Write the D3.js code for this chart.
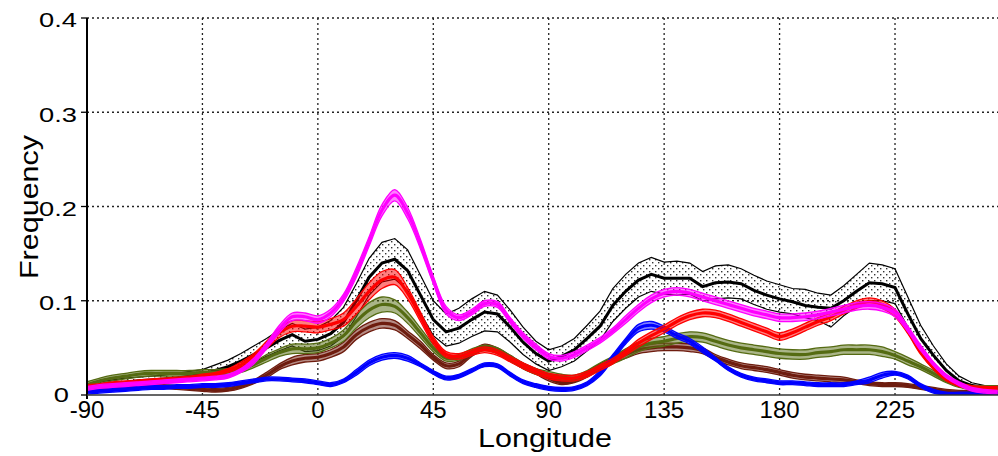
<!DOCTYPE html>
<html>
<head>
    <meta charset="utf-8">
    <script src="https://d3js.org/d3.v7.min.js"></script>
    <style>
        body { margin: 0; background: #fff; }
        text { font-family: "Liberation Sans", Arial, sans-serif; fill: #000; }
    </style>
</head>
<body>
<script>
    // longitude samples, every 5 degrees
    const lon = d3.range(-90, 270, 5);

    const xTicks = [-90, -45, 0, 45, 90, 135, 180, 225];
    const yTicks = [0, 0.1, 0.2, 0.3, 0.4];

    // black series (mean + envelope)
    const blackMean = [0.008, 0.010, 0.012, 0.013, 0.015, 0.016, 0.017, 0.018, 0.020, 0.022, 0.026, 0.030,
        0.036, 0.043, 0.050, 0.058, 0.064, 0.057, 0.059, 0.065, 0.077, 0.100, 0.125, 0.140, 0.144, 0.132, 0.106,
        0.080, 0.067, 0.071, 0.080, 0.088, 0.086, 0.072, 0.056, 0.044, 0.036, 0.041, 0.048, 0.060, 0.073, 0.095,
        0.110, 0.122, 0.128, 0.124, 0.124, 0.124, 0.115, 0.119, 0.120, 0.118, 0.111, 0.106, 0.102, 0.099, 0.095,
        0.093, 0.092, 0.100, 0.110, 0.119, 0.118, 0.114, 0.086, 0.060, 0.042, 0.026, 0.015, 0.010, 0.008, 0.008];
    const blackUpper = [0.011, 0.014, 0.016, 0.018, 0.019, 0.020, 0.021, 0.023, 0.025, 0.027, 0.032, 0.037,
        0.044, 0.052, 0.060, 0.069, 0.076, 0.070, 0.072, 0.079, 0.093, 0.118, 0.145, 0.162, 0.166, 0.154, 0.127,
        0.100, 0.086, 0.092, 0.102, 0.110, 0.106, 0.090, 0.072, 0.057, 0.048, 0.052, 0.060, 0.074, 0.089, 0.113,
        0.128, 0.140, 0.146, 0.141, 0.142, 0.140, 0.131, 0.137, 0.138, 0.134, 0.127, 0.121, 0.117, 0.113, 0.112,
        0.108, 0.106, 0.116, 0.128, 0.140, 0.138, 0.134, 0.104, 0.074, 0.052, 0.033, 0.020, 0.013, 0.010, 0.010];
    const blackLower = [0.005, 0.007, 0.008, 0.009, 0.011, 0.012, 0.013, 0.014, 0.016, 0.018, 0.021, 0.024,
        0.029, 0.035, 0.041, 0.047, 0.052, 0.046, 0.047, 0.052, 0.062, 0.083, 0.106, 0.120, 0.123, 0.111, 0.087,
        0.063, 0.052, 0.055, 0.062, 0.068, 0.067, 0.056, 0.043, 0.033, 0.026, 0.030, 0.036, 0.047, 0.058, 0.078,
        0.092, 0.104, 0.110, 0.107, 0.106, 0.107, 0.100, 0.102, 0.103, 0.102, 0.096, 0.091, 0.088, 0.086, 0.082,
        0.079, 0.072, 0.084, 0.094, 0.100, 0.100, 0.097, 0.072, 0.048, 0.032, 0.019, 0.010, 0.007, 0.006, 0.006];

    // coloured series: mean values
    const magentaMean = [0.007, 0.009, 0.010, 0.011, 0.012, 0.013, 0.014, 0.015, 0.016, 0.017, 0.018, 0.020,
        0.026, 0.036, 0.052, 0.070, 0.083, 0.083, 0.080, 0.087, 0.103, 0.130, 0.163, 0.196, 0.212, 0.193, 0.160,
        0.122, 0.090, 0.082, 0.088, 0.097, 0.096, 0.079, 0.063, 0.051, 0.041, 0.039, 0.043, 0.050, 0.058, 0.068,
        0.080, 0.092, 0.102, 0.108, 0.110, 0.108, 0.104, 0.100, 0.096, 0.092, 0.088, 0.085, 0.082, 0.082, 0.083,
        0.085, 0.088, 0.091, 0.094, 0.095, 0.093, 0.087, 0.070, 0.050, 0.033, 0.020, 0.012, 0.006, 0.004, 0.003];
    const redMean = [0.009, 0.010, 0.012, 0.013, 0.014, 0.015, 0.016, 0.017, 0.018, 0.020, 0.022, 0.026,
        0.032, 0.041, 0.053, 0.066, 0.073, 0.073, 0.072, 0.075, 0.080, 0.094, 0.110, 0.122, 0.125, 0.108, 0.083,
        0.058, 0.043, 0.041, 0.045, 0.048, 0.045, 0.038, 0.031, 0.025, 0.020, 0.018, 0.018, 0.022, 0.029, 0.036,
        0.045, 0.055, 0.063, 0.070, 0.078, 0.084, 0.087, 0.086, 0.082, 0.077, 0.072, 0.067, 0.062, 0.066, 0.072,
        0.078, 0.083, 0.090, 0.096, 0.099, 0.096, 0.087, 0.068, 0.046, 0.029, 0.017, 0.011, 0.008, 0.007, 0.007];
    const greenMean = [0.011, 0.015, 0.018, 0.020, 0.022, 0.023, 0.023, 0.023, 0.023, 0.024, 0.024, 0.025,
        0.027, 0.032, 0.039, 0.045, 0.049, 0.049, 0.050, 0.055, 0.063, 0.078, 0.090, 0.096, 0.094, 0.082, 0.066,
        0.050, 0.039, 0.040, 0.046, 0.050, 0.047, 0.039, 0.031, 0.025, 0.022, 0.019, 0.018, 0.023, 0.030, 0.037,
        0.044, 0.051, 0.055, 0.057, 0.060, 0.062, 0.061, 0.057, 0.053, 0.050, 0.048, 0.046, 0.044, 0.043, 0.043,
        0.045, 0.046, 0.048, 0.048, 0.048, 0.046, 0.042, 0.036, 0.030, 0.023, 0.015, 0.010, 0.008, 0.008, 0.008];
    const brownMean = [0.005, 0.007, 0.008, 0.009, 0.009, 0.009, 0.009, 0.008, 0.007, 0.006, 0.005, 0.006,
        0.009, 0.014, 0.021, 0.030, 0.036, 0.039, 0.040, 0.044, 0.051, 0.064, 0.072, 0.076, 0.074, 0.064, 0.053,
        0.040, 0.031, 0.033, 0.044, 0.051, 0.047, 0.039, 0.031, 0.025, 0.018, 0.013, 0.015, 0.022, 0.030, 0.037,
        0.043, 0.048, 0.050, 0.051, 0.051, 0.050, 0.047, 0.040, 0.035, 0.031, 0.029, 0.027, 0.024, 0.021, 0.019,
        0.018, 0.017, 0.016, 0.014, 0.012, 0.011, 0.011, 0.010, 0.008, 0.006, 0.004, 0.003, 0.003, 0.003, 0.003];
    const blueMean = [0.003, 0.004, 0.005, 0.006, 0.007, 0.008, 0.008, 0.009, 0.009, 0.010, 0.010, 0.011,
        0.013, 0.015, 0.017, 0.017, 0.016, 0.015, 0.013, 0.011, 0.015, 0.024, 0.034, 0.040, 0.042, 0.039, 0.032,
        0.024, 0.018, 0.020, 0.026, 0.032, 0.031, 0.022, 0.014, 0.010, 0.007, 0.006, 0.007, 0.012, 0.023, 0.040,
        0.057, 0.071, 0.074, 0.070, 0.063, 0.057, 0.048, 0.038, 0.028, 0.021, 0.017, 0.015, 0.013, 0.013, 0.012,
        0.011, 0.011, 0.011, 0.013, 0.016, 0.021, 0.023, 0.019, 0.010, 0.004, 0.001, 0.001, 0.001, 0.001, 0.001];

    // half-width of each coloured envelope, in thousandths
    const magentaSpread = [2, 2, 2, 2, 2, 2, 2, 2, 2, 2, 2, 2, 2, 3, 3, 4, 4, 4, 4, 4, 4, 5, 5, 6, 6, 6, 5, 4, 4,
        3, 3, 3, 3, 3, 3, 3, 3, 3, 3, 3, 3, 3, 4, 4, 4, 4, 4, 4, 4, 4, 4, 4, 4, 4, 4, 4, 4, 4, 4, 4, 4, 4, 4, 4, 3,
        3, 2, 2, 2, 2, 2, 2];
    const redSpread = [2, 2, 2, 2, 2, 2, 2, 2, 2, 2, 2, 2, 3, 3, 4, 5, 6, 6, 6, 6, 7, 8, 9, 9, 8, 6, 5, 4, 3,
        3, 3, 3, 3, 3, 3, 3, 3, 3, 3, 3, 3, 3, 3, 4, 4, 4, 4, 4, 4, 4, 4, 4, 4, 4, 4, 4, 4, 4, 4, 4, 4, 4, 4, 4, 3,
        3, 2, 2, 2, 2, 2, 2];
    const greenSpread = [3, 3, 3, 3, 3, 3, 3, 3, 3, 3, 3, 3, 3, 3, 4, 4, 5, 5, 5, 5, 6, 7, 8, 8, 7, 6, 5, 4, 3,
        3, 3, 3, 3, 3, 3, 3, 3, 3, 3, 3, 4, 4, 5, 5, 5, 5, 5, 5, 5, 5, 5, 5, 5, 5, 5, 5, 5, 5, 5, 5, 5, 5, 5, 4, 4,
        3, 3, 2, 2, 2, 2, 2];
    const brownSpread = [2, 2, 2, 2, 2, 2, 2, 2, 2, 2, 2, 2, 2, 2, 3, 3, 4, 4, 4, 4, 5, 5, 5, 5, 5, 4, 4, 3, 3,
        3, 3, 3, 3, 3, 3, 3, 3, 2, 2, 3, 3, 3, 4, 4, 4, 4, 4, 4, 3, 3, 3, 3, 3, 3, 3, 3, 3, 3, 3, 3, 2, 2, 2, 2, 2,
        2, 2, 2, 2, 2, 2, 2];
    const blueSpread = [2, 2, 2, 2, 2, 2, 2, 2, 2, 2, 2, 2, 2, 2, 2, 2, 2, 2, 2, 2, 2, 3, 3, 3, 3, 3, 2, 2, 2,
        2, 2, 2, 2, 2, 2, 2, 2, 2, 2, 2, 3, 3, 3, 4, 4, 3, 3, 3, 3, 2, 2, 2, 2, 2, 2, 2, 2, 2, 2, 2, 2, 3, 3, 2, 2,
        2, 2, 2, 2, 2, 2, 2];

    const width = 998;
    const height = 456;
    const plotLeft = 87, plotBottom = 395, plotTop = 18;

    const svg = d3.select("body").append("svg")
        .attr("width", width)
        .attr("height", height);

    const xScale = d3.scaleLinear().domain([-90, 270]).range([plotLeft, plotLeft + 360 * 2.5651]);
    const yScale = d3.scaleLinear().domain([0, 0.4]).range([plotBottom, plotTop]);

    // stipple pattern for the black envelope
    const defs = svg.append("defs");
    const pat = defs.append("pattern")
        .attr("id", "dots")
        .attr("patternUnits", "userSpaceOnUse")
        .attr("width", 6).attr("height", 6);
    pat.append("rect").attr("x", 1).attr("y", 1).attr("width", 1.4).attr("height", 1.4).attr("fill", "#333");
    pat.append("rect").attr("x", 4).attr("y", 4).attr("width", 1.4).attr("height", 1.4).attr("fill", "#333");

    defs.append("clipPath").attr("id", "plot")
        .append("rect").attr("x", plotLeft).attr("y", 0).attr("width", width - plotLeft).attr("height", plotBottom);

    // grid
    const grid = svg.append("g").attr("stroke", "#222").attr("stroke-width", 1.3).attr("stroke-dasharray", "2,3");
    grid.selectAll(".gx")
        .data(xTicks.filter(d => d > -90))
        .enter().append("line")
        .attr("x1", d => xScale(d)).attr("x2", d => xScale(d))
        .attr("y1", plotTop).attr("y2", plotBottom);
    grid.selectAll(".gy")
        .data(yTicks.filter(d => d > 0))
        .enter().append("line")
        .attr("x1", plotLeft).attr("x2", width)
        .attr("y1", d => yScale(d)).attr("y2", d => yScale(d));

    const plot = svg.append("g").attr("clip-path", "url(#plot)");

    const lineGen = d3.line().x((d, i) => xScale(lon[i])).y(d => yScale(d)).curve(d3.curveCatmullRom);
    const straight = d3.line().x((d, i) => xScale(lon[i])).y(d => yScale(d));

    // black envelope
    const blackArea = d3.area()
        .x((d, i) => xScale(lon[i]))
        .y0((d, i) => yScale(blackLower[i]))
        .y1((d, i) => yScale(blackUpper[i]));
    plot.append("path").datum(blackMean).attr("d", blackArea).attr("fill", "url(#dots)");
    [blackUpper, blackLower].forEach(arr => {
        plot.append("path").datum(arr).attr("d", straight)
            .attr("fill", "none").attr("stroke", "#000").attr("stroke-width", 1.2);
    });
    plot.append("path").datum(blackMean).attr("d", straight)
        .attr("fill", "none").attr("stroke", "#000").attr("stroke-width", 3);

    const series = [
        { mean: brownMean, spread: brownSpread, color: "#6e1c0e" },
        { mean: greenMean, spread: greenSpread, color: "#556b12" },
        { mean: blueMean, spread: blueSpread, color: "#0000ff" },
        { mean: redMean, spread: redSpread, color: "#ff0000" },
        { mean: magentaMean, spread: magentaSpread, color: "#ff00ff" }
    ];

    series.forEach(s => {
        const up = s.mean.map((v, i) => v + (s.spread[i] ?? 2) / 1000);
        const lo = s.mean.map((v, i) => Math.max(0, v - (s.spread[i] ?? 2) / 1000));
        const area = d3.area()
            .x((d, i) => xScale(lon[i]))
            .y0((d, i) => yScale(lo[i]))
            .y1((d, i) => yScale(up[i]))
            .curve(d3.curveCatmullRom);
        plot.append("path").datum(s.mean).attr("d", area)
            .attr("fill", s.color).attr("fill-opacity", 0.5);
        [up, lo].forEach(arr => {
            plot.append("path").datum(arr).attr("d", lineGen)
                .attr("fill", "none").attr("stroke", s.color).attr("stroke-width", 1.3);
        });
        plot.append("path").datum(s.mean).attr("d", lineGen)
            .attr("fill", "none").attr("stroke", s.color).attr("stroke-width", 3.2);
    });

    // axes lines
    svg.append("line")
        .attr("x1", plotLeft).attr("x2", plotLeft).attr("y1", plotTop).attr("y2", plotBottom + 4)
        .attr("stroke", "#000").attr("stroke-width", 2);
    svg.append("line")
        .attr("x1", plotLeft).attr("x2", width).attr("y1", plotBottom).attr("y2", plotBottom)
        .attr("stroke", "#333").attr("stroke-width", 1.5);

    // y ticks + labels
    svg.selectAll(".yt")
        .data(yTicks)
        .enter().append("line")
        .attr("x1", plotLeft - 6).attr("x2", plotLeft)
        .attr("y1", d => yScale(d)).attr("y2", d => yScale(d))
        .attr("stroke", "#000").attr("stroke-width", 1.3);
    svg.selectAll(".yl")
        .data(yTicks)
        .enter().append("text")
        .attr("transform", d => `translate(${d === 0 ? 69 : 77},${yScale(d) + (d === 0 ? 0 : 2)}) scale(1.3,1)`)
        .attr("dy", "0.35em")
        .attr("text-anchor", "end")
        .attr("font-size", 21)
        .text(d => d === 0 ? "0" : d.toFixed(1));

    // x labels
    svg.selectAll(".xl")
        .data(xTicks)
        .enter().append("text")
        .attr("x", d => xScale(d))
        .attr("y", 418)
        .attr("text-anchor", "middle")
        .attr("font-size", 24)
        .text(d => d);

    // axis titles
    svg.append("text")
        .attr("transform", "translate(545,447) scale(1.22,1)")
        .attr("text-anchor", "middle")
        .attr("font-size", 25)
        .text("Longitude");
    svg.append("text")
        .attr("transform", "translate(38,207) rotate(-90) scale(1.22,1)")
        .attr("text-anchor", "middle")
        .attr("font-size", 25)
        .text("Frequency");
</script>
</body>
</html>
